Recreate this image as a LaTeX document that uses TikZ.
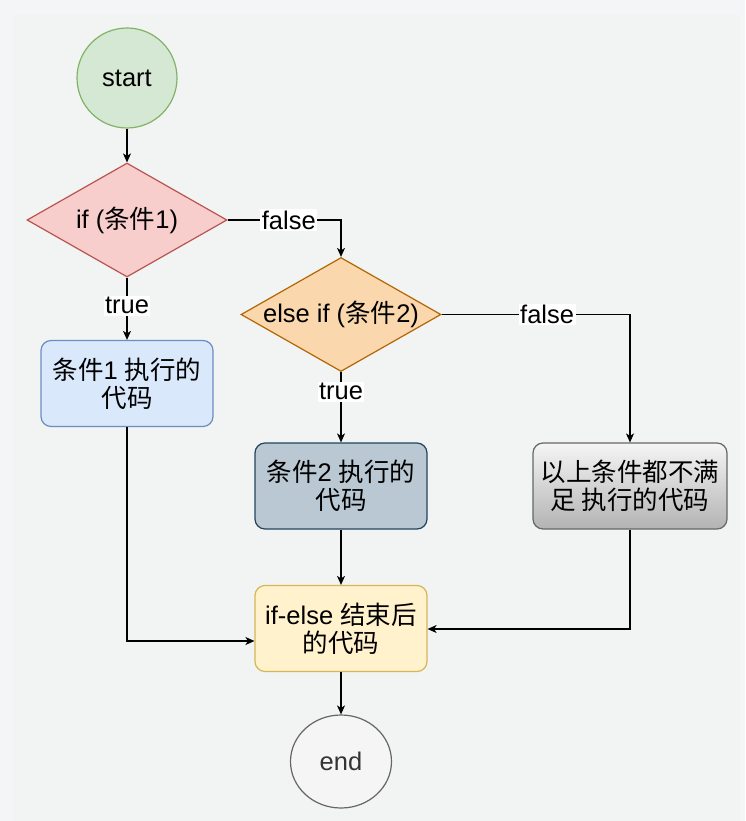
\documentclass[tikz,border=0pt]{standalone}
\usepackage{fontspec}
\setmainfont{Liberation Sans}
\newfontfamily\cjkfont{Noto Sans CJK SC}
\newcommand{\zhtxt}[1]{{\cjkfont #1}}
\usetikzlibrary{shapes.geometric,arrows.meta}
\definecolor{outerbg}{HTML}{F4F5F7}
\definecolor{innerbg}{HTML}{F1F4F3}
\definecolor{gfill}{HTML}{D5E8D4}\definecolor{gline}{HTML}{82B366}
\definecolor{rfill}{HTML}{F8CECC}\definecolor{rline}{HTML}{B85450}
\definecolor{ofill}{HTML}{FAD7AC}\definecolor{oline}{HTML}{B46504}
\definecolor{bfill}{HTML}{DAE8FC}\definecolor{bline}{HTML}{6C8EBF}
\definecolor{sfill}{HTML}{BAC8D3}\definecolor{sline}{HTML}{23445D}
\definecolor{yfill}{HTML}{FFF2CC}\definecolor{yline}{HTML}{D6B656}
\definecolor{gyfill}{HTML}{F5F5F5}\definecolor{gyline}{HTML}{666666}
\definecolor{gybot}{HTML}{B3B3B3}
\definecolor{endtext}{HTML}{333333}
\tikzset{
  base/.style={line width=1.2pt, inner sep=0pt, font=\fontsize{25.5}{28}\selectfont, align=center},
  circ/.style={base, ellipse, minimum width=100pt, minimum height=100pt},
  dia/.style={base, diamond, minimum width=200pt, minimum height=114pt},
  procbox/.style={base, rectangle, rounded corners=10pt, minimum width=172pt, minimum height=86pt},
  conn/.style={line width=1.3pt, -{Stealth[length=9pt,width=8pt,inset=2.5pt]}},
  elabel/.style={fill=white, inner sep=1.5pt, font=\fontsize{25.5}{28}\selectfont, text=black}
}
\begin{document}
\begin{tikzpicture}[x=1pt,y=-1pt]
\useasboundingbox (0,0) rectangle (745,821);
\fill[outerbg] (0,0) rectangle (745,821);
\fill[innerbg] (13,15) rectangle (740,821);

\node[circ, fill=gfill, draw=gline] (start) at (127,78) {start};
\node[dia, fill=rfill, draw=rline] (d1) at (127,220) {};
\node[base] (d1t) at (d1.center) {if (\zhtxt{条件}1)};
\node[dia, fill=ofill, draw=oline] (d2) at (341,314.5) {};
\node[base] (d2t) at (d2.center) {else if (\zhtxt{条件}2)};
\node[procbox, fill=bfill, draw=bline] (b1) at (127,383.5) {\zhtxt{条件}1 \zhtxt{执行的}\\\zhtxt{代码}};
\node[procbox, fill=sfill, draw=sline] (b2) at (341,486) {\zhtxt{条件}2 \zhtxt{执行的}\\\zhtxt{代码}};
\node[procbox, minimum width=194pt, top color=gyfill, bottom color=gybot, draw=gyline] (b3) at (630,486) {\zhtxt{以上条件都不满}\\\zhtxt{足 执行的代码}};
\node[procbox, fill=yfill, draw=yline] (b4) at (341,628.5) {if-else \zhtxt{结束后}\\\zhtxt{的代码}};
\node[circ, minimum width=101pt, minimum height=93pt, fill=gyfill, draw=gyline, text=endtext] (end) at (341,761.5) {end};

\draw[conn] (start) -- (d1.north);
\draw[conn] (d1.east) -| node[elabel, pos=0.27] {false} (d2.north);
\draw[conn] (d2.east) -| node[elabel, pos=0.28] {false} (b3.north);
\draw[conn] (d1.south) -- node[elabel, pos=0.45] {true} (b1.north);
\draw[conn] (d2.south) -- node[elabel, pos=0.28] {true} (b2.north);
\draw[conn] (b1.south) |- ([yshift=-12.5pt]b4.west);
\draw[conn] (b2.south) -- (b4.north);
\draw[conn] (b3.south) |- ([yshift=-0.5pt]b4.east);
\draw[conn] (b4.south) -- (end.north);
\end{tikzpicture}
\end{document}
